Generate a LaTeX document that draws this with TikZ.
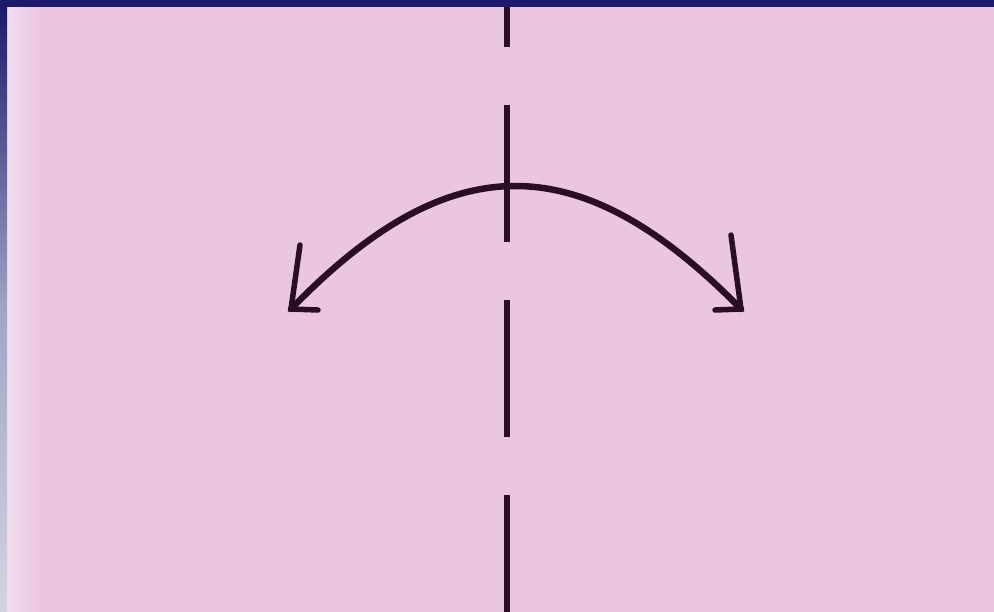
\documentclass[tikz,border=0pt]{standalone}
\usetikzlibrary{calc}
\definecolor{navy}{HTML}{1B1A6C}
\definecolor{paper}{HTML}{EBC6E2}
\definecolor{paperlight}{HTML}{F2DDEF}
\definecolor{ink}{HTML}{2A0E26}
\definecolor{stripmid}{HTML}{A2A6C6}
\definecolor{stripbot}{HTML}{D3D5E2}
\tikzset{
  foldline/.style={draw=ink, line width=5.5pt, dash pattern=on 137pt off 58pt},
  arrowline/.style={draw=ink, line width=6.5pt, line cap=round, line join=round},
  barb/.style={draw=ink, line width=5.5pt, line cap=round}
}
\begin{document}
\begin{tikzpicture}[x=1pt,y=-1pt]
\useasboundingbox (0,0) rectangle (994,611);
% paper
\fill[paper] (-5,-5) rectangle (1000,620);
\shade[left color=paperlight, right color=paper] (7,7) rectangle (40,620);
% fold line
\coordinate (ftop) at (507,-90);
\coordinate (fbot) at (507,640);
\begin{scope}
\clip (7,7) rectangle (1000,620);
\draw[foldline] (ftop) -- (fbot);
\end{scope}
% curved arrow
\coordinate (ltip) at (291,309);
\coordinate (rtip) at (741,309);
\coordinate (lbarbup) at (300,245);
\coordinate (lbarbside) at (318,310);
\coordinate (rbarbup) at (731,235);
\coordinate (rbarbside) at (715,310);
\draw[arrowline] (ltip) .. controls (450,145) and (580,145) .. (rtip);
\draw[barb] (lbarbup) -- (ltip) -- (lbarbside);
\draw[barb] (rbarbup) -- (rtip) -- (rbarbside);
% frame
\fill[navy] (-5,-5) rectangle (1000,7);
\shade[top color=navy, bottom color=stripbot, middle color=stripmid] (-5,7) rectangle (7,620);
\end{tikzpicture}
\end{document}
